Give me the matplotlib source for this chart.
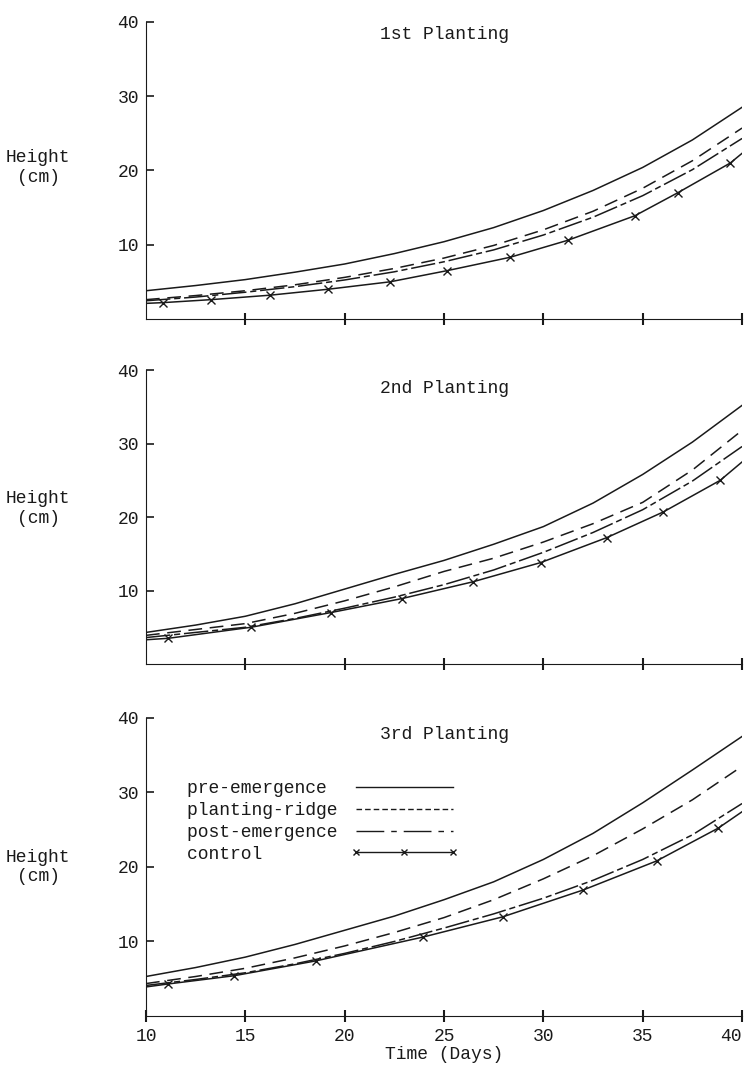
import matplotlib
matplotlib.use('Agg')
import matplotlib.pyplot as plt
from matplotlib.lines import Line2D

plt.rcParams['font.family'] = ['Liberation Mono', 'DejaVu Sans Mono']
plt.rcParams['font.size'] = 13

# wspolna siatka dni dla krzywych dopasowanych
days = [10, 12.5, 15, 17.5, 20, 22.5, 25, 27.5, 30, 32.5, 35, 37.5, 40]

# 1st planting
p1_pre = [3.8, 4.5, 5.3, 6.3, 7.4, 8.8, 10.4, 12.3, 14.6, 17.3, 20.4, 24.1, 28.5]
p1_ridge = [2.6, 3.15, 3.8, 4.6, 5.6, 6.8, 8.2, 9.9, 12.0, 14.5, 17.6, 21.3, 25.7]
p1_post = [2.45, 2.95, 3.6, 4.35, 5.25, 6.35, 7.7, 9.3, 11.3, 13.7, 16.6, 20.1, 24.3]
p1_ctrl_x = [10, 10.86, 13.27, 16.24, 19.16, 22.28, 25.15, 28.32, 31.24, 34.61, 36.77, 39.41, 40]
p1_ctrl = [2.1, 2.2, 2.6, 3.2, 4.0, 5.0, 6.5, 8.3, 10.6, 13.9, 17.0, 21.0, 22.3]

# 2nd planting
p2_pre = [4.3, 5.3, 6.5, 8.2, 10.2, 12.2, 14.1, 16.3, 18.7, 21.9, 25.8, 30.2, 35.2]
p2_ridge = [3.9, 4.7, 5.5, 6.9, 8.6, 10.5, 12.6, 14.4, 16.6, 19.1, 22.0, 26.4, 31.8]
p2_post = [3.6, 4.3, 5.0, 6.2, 7.6, 9.1, 10.8, 12.8, 15.2, 17.9, 21.0, 24.9, 29.6]
p2_ctrl_x = [10, 11.12, 15.28, 19.3, 22.87, 26.47, 29.86, 33.19, 36.04, 38.9, 40]
p2_ctrl = [3.3, 3.5, 5.0, 7.0, 8.9, 11.2, 13.8, 17.2, 20.7, 25.0, 27.5]

# 3rd planting
p3_pre = [5.3, 6.5, 7.9, 9.6, 11.5, 13.4, 15.6, 18.0, 21.0, 24.5, 28.6, 33.0, 37.5]
p3_ridge = [4.35, 5.3, 6.4, 7.8, 9.4, 11.2, 13.2, 15.6, 18.4, 21.5, 25.1, 29.0, 33.5]
p3_post = [4.1, 4.9, 5.8, 7.0, 8.4, 10.0, 11.8, 13.7, 15.8, 18.2, 21.0, 24.3, 28.5]
p3_ctrl_x = [10, 11.12, 14.43, 18.56, 23.96, 27.95, 32.0, 35.7, 38.8, 40]
p3_ctrl = [3.9, 4.3, 5.4, 7.4, 10.6, 13.3, 16.9, 20.8, 25.2, 27.4]

titles = ['1st Planting', '2nd Planting', '3rd Planting']
labels = ['pre-emergence', 'planting-ridge', 'post-emergence', 'control']

panels = [
    (p1_pre, p1_ridge, p1_post, p1_ctrl_x, p1_ctrl),
    (p2_pre, p2_ridge, p2_post, p2_ctrl_x, p2_ctrl),
    (p3_pre, p3_ridge, p3_post, p3_ctrl_x, p3_ctrl),
]

ink = '#1a1a1a'
ridge_dash = (9, 5)
post_dash = (16, 2.5, 4, 2.5)

fig = plt.figure(figsize=(7.47, 10.65), dpi=100)
boxes = [[0.1954, 0.7005, 0.798, 0.279],
         [0.1954, 0.3765, 0.798, 0.276],
         [0.1954, 0.0460, 0.798, 0.280]]
title_y = [0.956, 0.939, 0.943]
label_y = [0.51, 0.53, 0.50]

for i, (pre, ridge, post, cx, cy) in enumerate(panels):
    ax = fig.add_axes(boxes[i])
    ax.plot(days, pre, color=ink, lw=1.1)
    ax.plot(days, ridge, color=ink, lw=1.1, dashes=ridge_dash)
    ax.plot(days, post, color=ink, lw=1.1, dashes=post_dash)
    ax.plot(cx, cy, color=ink, lw=1.1, marker='x', markersize=5.5,
            markeredgewidth=1.0, markevery=list(range(1, len(cx) - 1)))

    ax.set_xlim(10, 40)
    ax.set_ylim(0, 40)
    ax.set_yticks([10, 20, 30, 40])
    ax.set_xticks([15, 20, 25, 30, 35, 40])
    for s in ['top', 'right']:
        ax.spines[s].set_visible(False)
    ax.spines['left'].set_color(ink)
    ax.spines['bottom'].set_color(ink)
    ax.tick_params(axis='y', direction='in', length=6, width=1.2, pad=5, colors=ink)
    ax.tick_params(axis='x', direction='inout', length=9, width=1.5, pad=4, colors=ink)

    ax.text(0.5, title_y[i], titles[i], transform=ax.transAxes,
            ha='center', va='center', color=ink)
    ax.set_ylabel('Height\n(cm)', rotation=0, ha='center', va='center',
                  multialignment='center', color=ink)
    ax.yaxis.set_label_coords(-0.181, label_y[i])

    if i < 2:
        ax.set_xticklabels([])
    else:
        ax.set_xticks([10, 15, 20, 25, 30, 35, 40])
        ax.get_xticklabels()[-1].set_horizontalalignment('right')
        ax.set_xlabel('Time (Days)', color=ink, labelpad=1)

        # legenda wpisana recznie jak na maszynie do pisania
        handles = [
            Line2D([], [], color=ink, lw=1.0),
            Line2D([], [], color=ink, lw=1.0, dashes=(4, 2.2)),
            Line2D([], [], color=ink, lw=1.0, dashes=(20, 5, 4, 5)),
            Line2D([], [], color=ink, lw=1.0, marker='x', markersize=5,
                   markeredgewidth=1.0),
        ]
        ax.legend(handles, [l.ljust(15) for l in labels], loc='upper left',
                  bbox_to_anchor=(0.069, 0.79), frameon=False, markerfirst=False,
                  handlelength=6.0, handletextpad=0.1, labelspacing=0.26,
                  borderpad=0, borderaxespad=0, numpoints=3, fontsize=13,
                  labelcolor=ink)

fig.savefig('out.png', dpi=100)
